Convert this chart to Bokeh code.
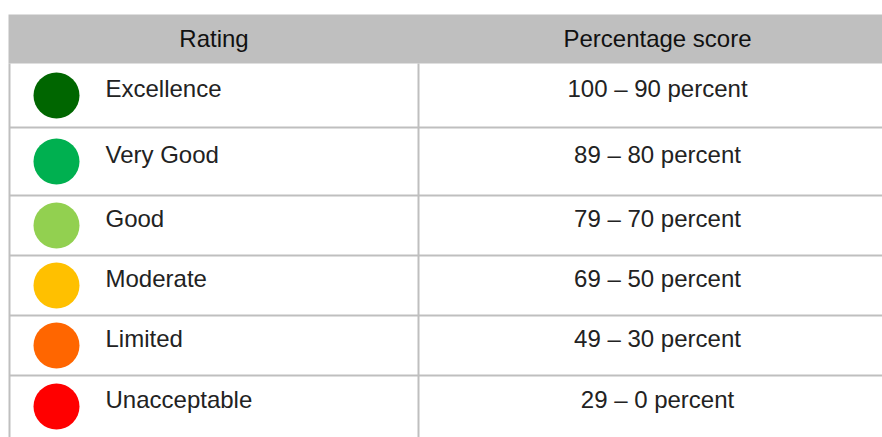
from bokeh.plotting import figure
from bokeh.models import Range1d
from bokeh.core.properties import value
from bokeh.embed import file_html
from bokeh.resources import INLINE

headers = ["Rating", "Percentage score"]
ratings = ["Excellence", "Very Good", "Good", "Moderate", "Limited", "Unacceptable"]
colors = ["#006600", "#00B050", "#92D050", "#FFC000", "#FF6600", "#FF0000"]
scores = ["100 \u2013 90 percent", "89 \u2013 80 percent", "79 \u2013 70 percent",
          "69 \u2013 50 percent", "49 \u2013 30 percent", "29 \u2013 0 percent"]

# layout (image pixel coordinates)
W, H = 882, 437
X0, Y0 = 0, 0
row_edges = [63, 127, 195, 255, 315, 375, 437]
header_top = 14
left_x, div_x, right_x = 9, 418, 896
grid_col = "#BFBFBF"
FONT = value("Liberation Sans")

p = figure(width=W, height=H, output_backend="svg", toolbar_location=None,
           x_range=Range1d(X0, X0 + W), y_range=Range1d(Y0 + H, Y0),
           min_border=0, outline_line_color=None, background_fill_color="white")
p.axis.visible = False
p.grid.visible = False

# header band
p.quad(left=[8], right=[right_x], top=[header_top], bottom=[row_edges[0]],
       fill_color=grid_col, line_color=None)
p.text(x=[(left_x + div_x) / 2, (div_x + right_x) / 2], y=[37.5, 37.5], text=headers,
       text_align="center", text_baseline="middle", text_font=FONT,
       text_font_size="24px", text_color="#111111")

# grid lines
inner = row_edges[1:-1]
p.segment(x0=[left_x] * len(inner), x1=[right_x] * len(inner), y0=inner, y1=inner,
          line_color=grid_col, line_width=2)
p.segment(x0=[left_x, div_x], x1=[left_x, div_x], y0=[row_edges[0]] * 2, y1=[row_edges[-1]] * 2,
          line_color=grid_col, line_width=2)

# rows
centers = [(a + b) / 2 for a, b in zip(row_edges[:-1], row_edges[1:])]
p.scatter(x=[56] * len(ratings), y=centers, size=46, marker="circle",
          fill_color=colors, line_color=None)
text_y = [c - 7 for c in centers]
p.text(x=[105] * len(ratings), y=text_y, text=ratings, text_align="left",
       text_baseline="middle", text_font=FONT, text_font_size="24px", text_color="#222222")
p.text(x=[(div_x + right_x) / 2] * len(scores), y=text_y, text=scores, text_align="center",
       text_baseline="middle", text_font=FONT, text_font_size="24px", text_color="#222222")

open("out.html", "w").write(file_html(p, INLINE))
